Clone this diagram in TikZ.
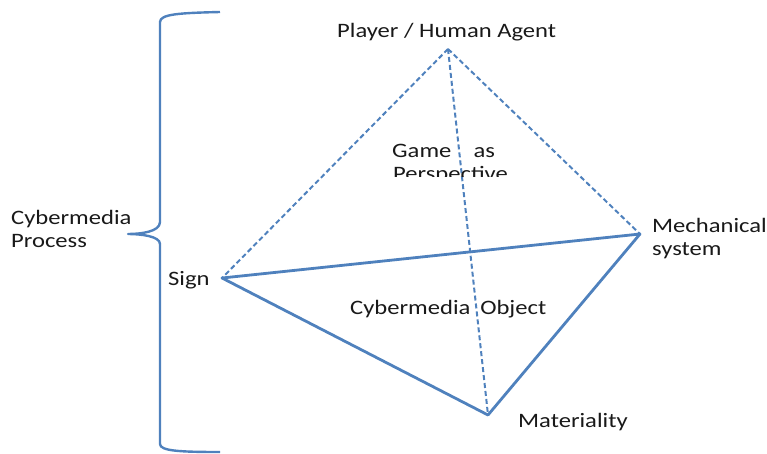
\documentclass[tikz,border=0pt]{standalone}
\usepackage{fontspec}
\setmainfont{Carlito}
\usepackage{graphicx}
\definecolor{edgeblue}{RGB}{79,129,189}
\definecolor{txt}{RGB}{25,25,25}
\newcommand{\widetxt}[1]{\scalebox{1.2}[1]{#1}}
\begin{document}
\begin{tikzpicture}[x=1pt,y=-1pt,
  lbl/.style={inner sep=0pt, text=txt, font=\fontsize{20.5}{23}\selectfont, anchor=base west},
  solidedge/.style={draw=edgeblue, line width=2.8pt, line join=round, line cap=round},
  dashedge/.style={draw=edgeblue, line width=2pt, dash pattern=on 5pt off 3pt},
  bracestyle/.style={draw=edgeblue, line width=2.4pt, line join=round}]
\useasboundingbox (0,0) rectangle (767,454);
% vertices
\coordinate (P) at (448,49);
\coordinate (S) at (222,278);
\coordinate (M) at (640,234);
\coordinate (T) at (488,415);
% edges
\draw[dashedge] (P) -- (S);
\draw[dashedge] (P) -- (M);
\draw[dashedge] (P) -- (T);
\draw[solidedge] (S) -- (M);
\draw[solidedge] (S) -- (T);
\draw[solidedge] (M) -- (T);
% brace
\coordinate (b1) at (220,12);
\coordinate (b2) at (160,222);
\coordinate (tip) at (128,234);
\coordinate (b3) at (160,244);
\coordinate (b4) at (220,452);
\draw[bracestyle] (b1) .. controls (180,13) and (160,14) .. (160,22) -- (b2)
  .. controls (160,232) and (140,234) .. (tip)
  .. controls (140,234) and (160,236) .. (b3) -- (160,444)
  .. controls (160,451) and (180,452) .. (b4);
% labels
\node[lbl] (lp) at (337,38) {\widetxt{Player / Human Agent}};
\node[lbl] (lcp1) at (11,224) {\widetxt{Cybermedia}};
\node[lbl] (lcp2) at (11,247) {\widetxt{Process}};
\node[lbl] (ls) at (168,285) {\widetxt{Sign}};
\node[lbl] (lm1) at (652,232) {\widetxt{Mechanical}};
\node[lbl] (lm2) at (652,255) {\widetxt{system}};
\node[lbl] (lt) at (518,427) {\widetxt{Materiality}};
\node[lbl] (lo) at (350,314) {\widetxt{Cybermedia\hspace{0.4em}Object}};
\node[lbl] (lg1) at (392,158) {\widetxt{Game\hspace{0.9em}as}};
\begin{scope}
\clip (380,160) rectangle (520,177);
\node[lbl] (lg2) at (393,181) {\widetxt{Perspective}};
\end{scope}
\end{tikzpicture}
\end{document}
